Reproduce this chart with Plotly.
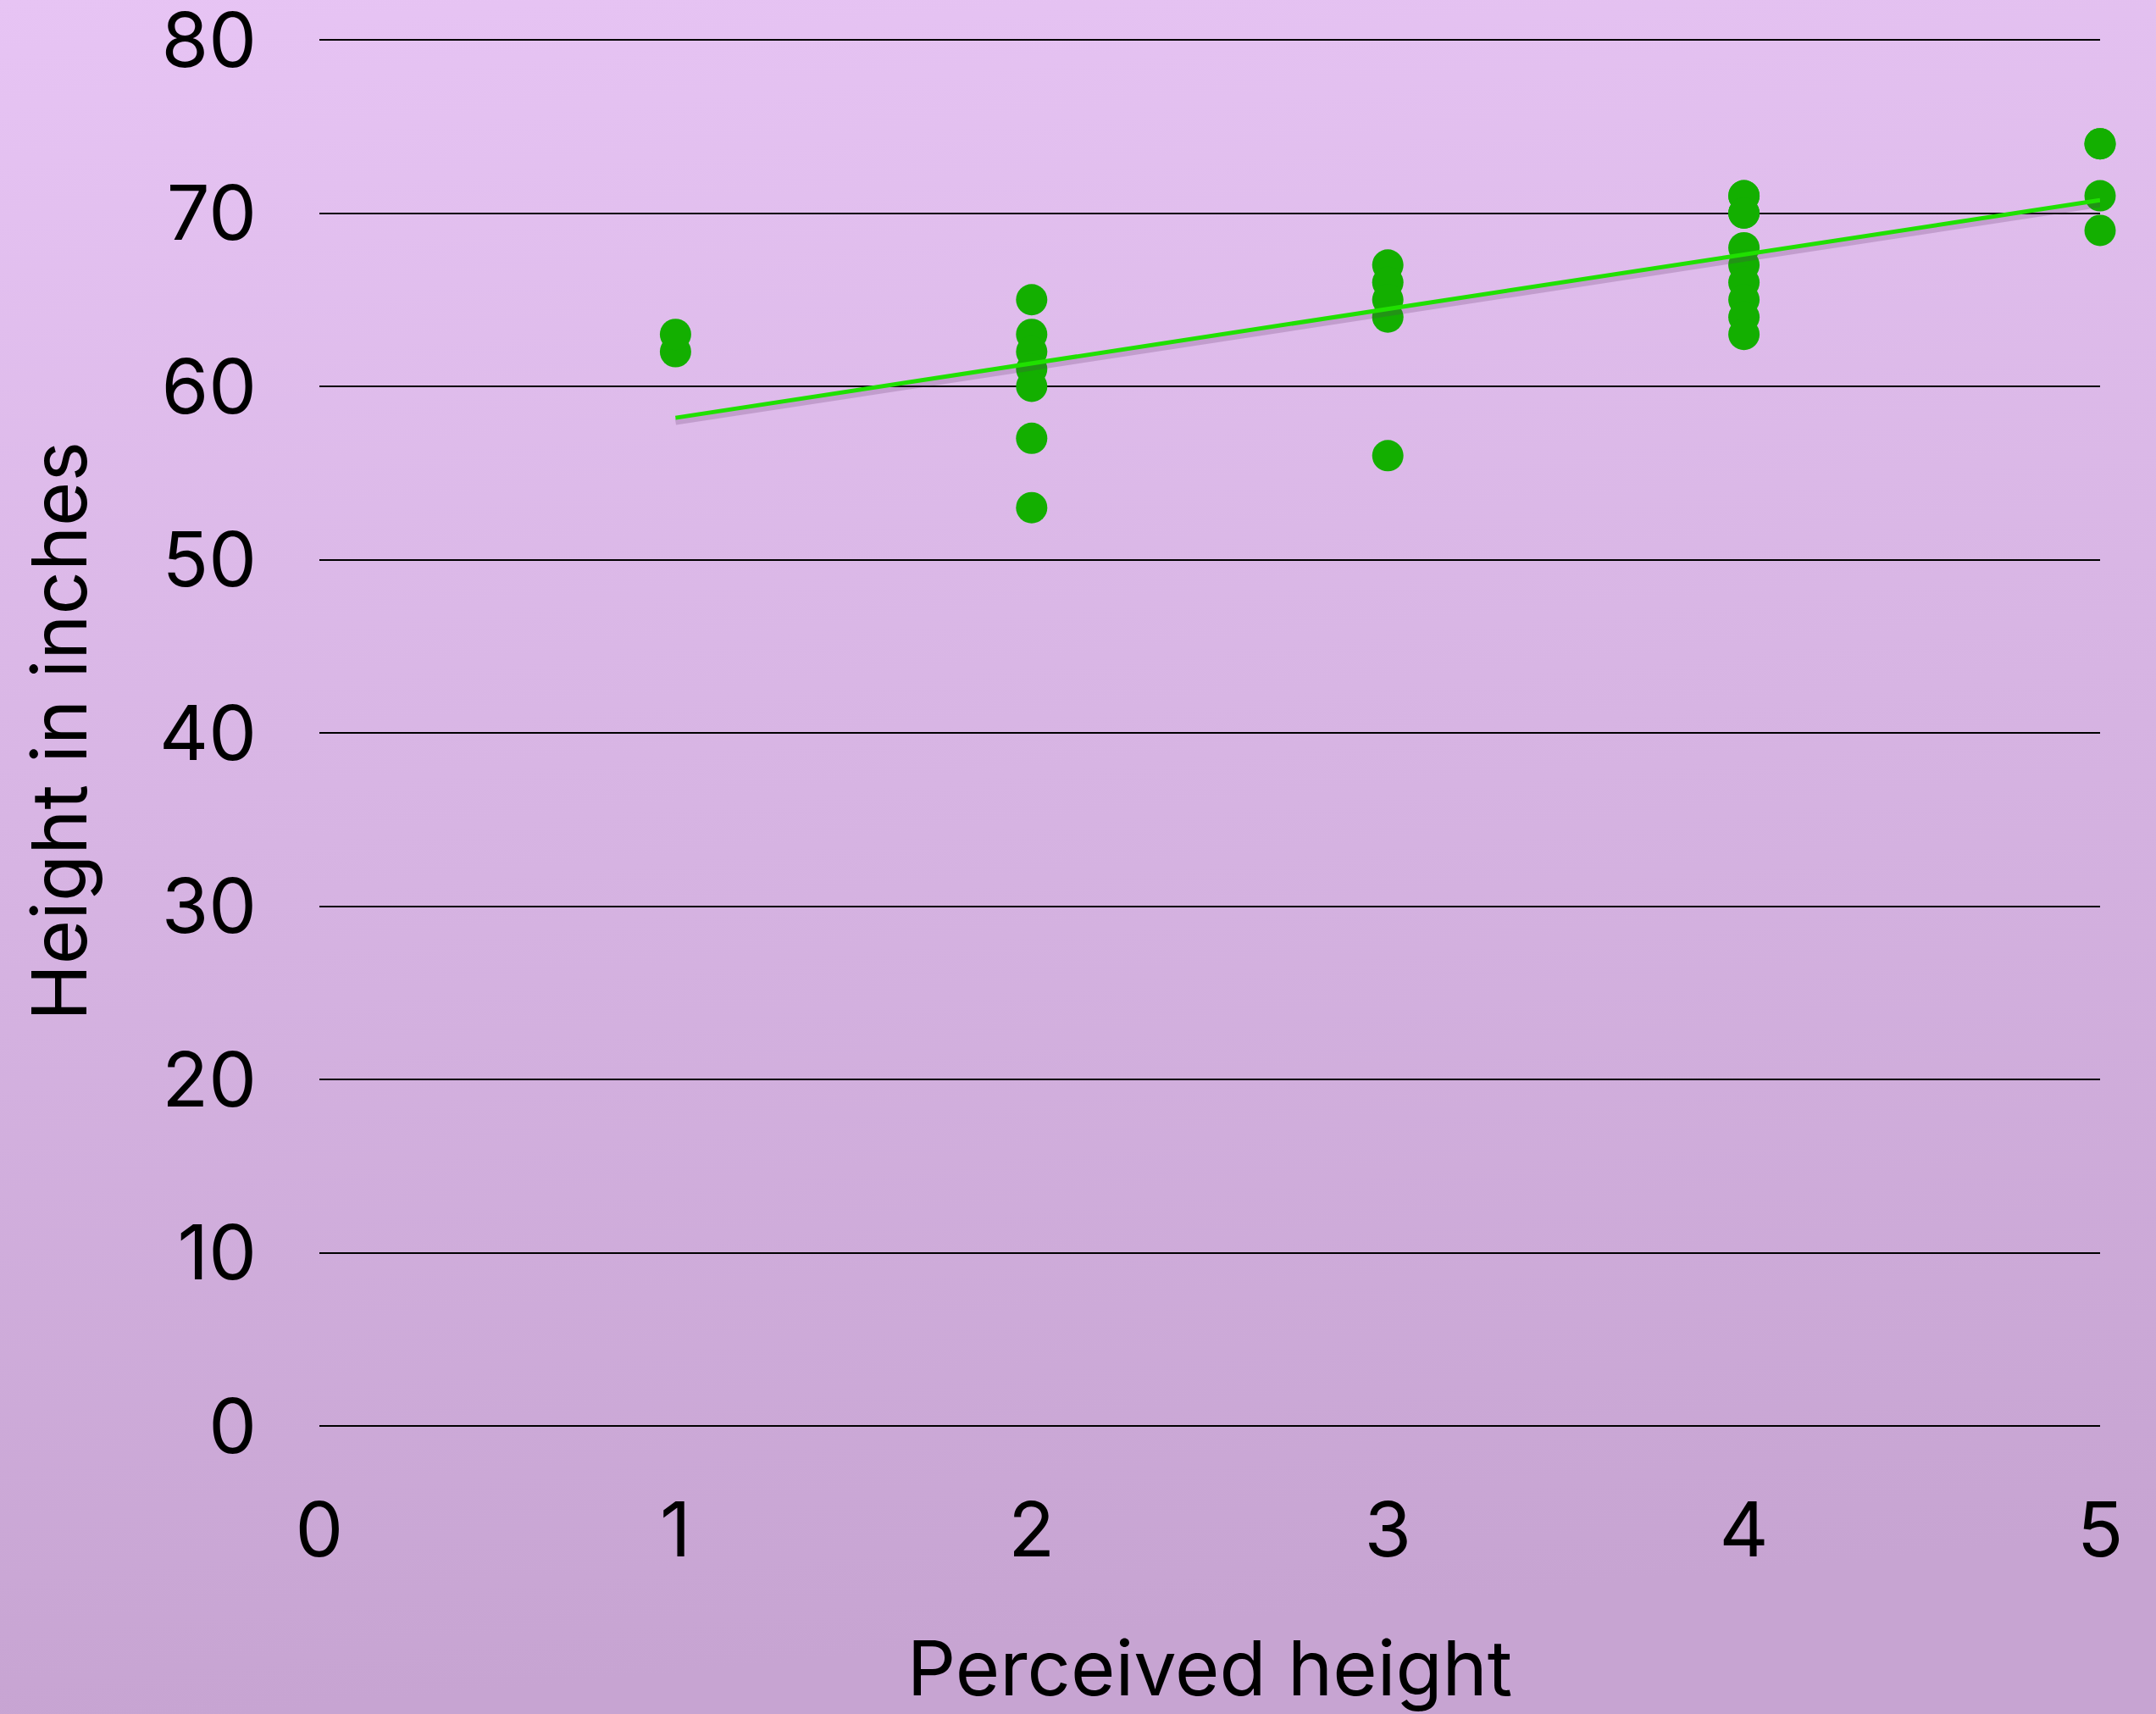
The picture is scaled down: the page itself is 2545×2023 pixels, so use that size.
import base64
import numpy as np
import plotly.graph_objects as go

# Data
perceived = [1, 1,
             2, 2, 2, 2, 2, 2, 2,
             3, 3, 3, 3, 3,
             4, 4, 4, 4, 4, 4, 4, 4, 4, 4,
             5, 5, 5, 5]
height_in = [62, 63,
             65, 63, 62, 61, 60, 57, 53,
             67, 66, 65, 64, 56,
             71, 71, 70, 70, 68, 67, 66, 65, 64, 63,
             74, 74, 71, 69]
x_ticks = [0, 1, 2, 3, 4, 5]
y_ticks = [0, 10, 20, 30, 40, 50, 60, 70, 80]

W, H = 2545, 2023
L, R, T, B = 377, 66, 43, 340
pw, ph = W - L - R, H - T - B
Y_TOP = 80.196

slope, intercept = np.polyfit(perceived, height_in, 1)
tx = np.array([min(perceived), max(perceived)], dtype=float)
ty = intercept + slope * tx

svg = (f'<svg xmlns="http://www.w3.org/2000/svg" width="{W}" height="{H}">'
       '<defs><linearGradient id="g" x1="0" y1="0" x2="0.12" y2="1">'
       '<stop offset="0" stop-color="#E7C4F4"/><stop offset="1" stop-color="#C7A4D2"/>'
       '</linearGradient></defs>'
       f'<rect width="{W}" height="{H}" fill="url(#g)"/></svg>')
src = "data:image/svg+xml;base64," + base64.b64encode(svg.encode()).decode()

FONT = "Inter"
FS = 90

fig = go.Figure()
fig.add_trace(go.Scatter(
    x=perceived, y=height_in, mode="markers",
    marker=dict(size=37, color="#13AF00", line=dict(width=0)),
    cliponaxis=False, showlegend=False, hoverinfo="x+y"))
fig.add_trace(go.Scatter(
    x=tx, y=ty - 0.22, mode="lines",
    line=dict(color="rgba(90,50,100,0.22)", width=8),
    showlegend=False, hoverinfo="skip", cliponaxis=False))
fig.add_trace(go.Scatter(
    x=tx, y=ty, mode="lines",
    line=dict(color="#20E000", width=5),
    showlegend=False, hoverinfo="skip", cliponaxis=False))

fig.update_layout(
    width=W, height=H,
    margin=dict(l=L, r=R, t=T, b=B, autoexpand=False),
    paper_bgcolor="#D6B4E2",
    plot_bgcolor="rgba(0,0,0,0)",
    font=dict(family=FONT, color="black", size=FS),
    images=[dict(source=src, xref="paper", yref="paper",
                 x=-L / pw, y=1 + T / ph, sizex=W / pw, sizey=H / ph,
                 xanchor="left", yanchor="top", sizing="stretch",
                 layer="below")],
    xaxis=dict(range=[0, 5], tickvals=x_ticks, showgrid=False, zeroline=False,
               showline=False, ticks="", ticklabelstandoff=63,
               ticklabeloverflow="allow",
               tickfont=dict(size=FS, family=FONT),
               title=dict(text="Perceived height", standoff=104,
                          font=dict(size=FS, family=FONT)),
               automargin=False),
    yaxis=dict(range=[0, Y_TOP], tickvals=y_ticks, showgrid=True,
               gridcolor="black", gridwidth=2, zeroline=True,
               zerolinecolor="black", zerolinewidth=2, showline=False,
               ticks="", ticklabelstandoff=73,
               ticklabeloverflow="allow",
               tickfont=dict(size=FS, family=FONT),
               title=dict(text="Height in inches", standoff=55,
                          font=dict(size=FS, family=FONT)),
               automargin=False),
)

fig.write_html("out.html",
               config={"displayModeBar": False},
               post_script="document.body.style.margin='0';document.body.style.overflow='hidden';")
